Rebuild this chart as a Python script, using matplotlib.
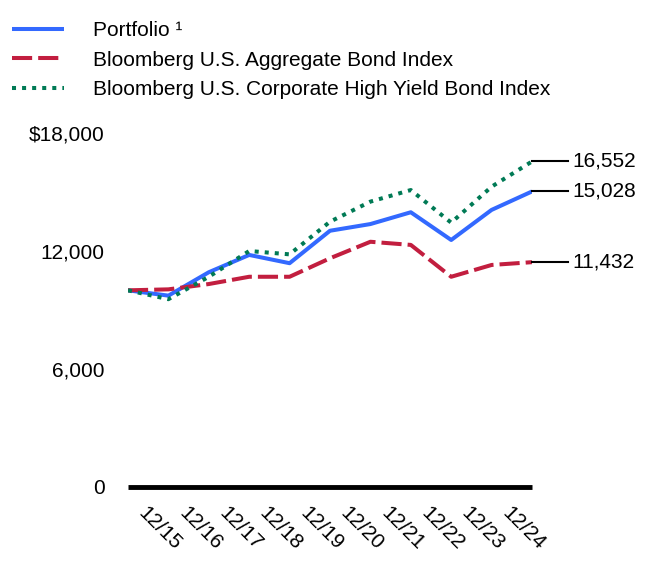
import matplotlib
matplotlib.use("Agg")
import matplotlib.pyplot as plt

plt.rcParams['font.family'] = ['Liberation Sans', 'DejaVu Sans']

tick_labels = ["12/15", "12/16", "12/17", "12/18", "12/19", "12/20", "12/21", "12/22", "12/23", "12/24"]
points_x = list(range(11))
portfolio = [10000, 9730, 10920, 11800, 11380, 13030, 13370, 13970, 12560, 14090, 15028]
aggregate = [10000, 10050, 10320, 10690, 10690, 11630, 12470, 12310, 10690, 11290, 11432]
high_yield = [10000, 9550, 10690, 12000, 11830, 13490, 14510, 15100, 13440, 15270, 16552]
series_names = ["Portfolio \u00b9", "Bloomberg U.S. Aggregate Bond Index",
                "Bloomberg U.S. Corporate High Yield Bond Index"]
end_labels = ["15,028", "11,432", "16,552"]
yticks = [0, 6000, 12000, 18000]
ytick_labels = ["0", "6,000", "12,000", "$18,000"]

blue = "#3369FF"
red = "#C21E3F"
green = "#007A55"
FS = 15

fig = plt.figure(figsize=(6.6, 5.88), dpi=100)
ax = fig.add_axes([128/660, 1 - 487/588, (532-128)/660, (487-133)/588])

lw = 2.9
l1, = ax.plot(points_x, portfolio, color=blue, lw=lw, solid_capstyle='butt')
l2, = ax.plot(points_x, aggregate, color=red, lw=lw, dashes=(5.0, 1.5), dash_capstyle='butt')
l3, = ax.plot(points_x, high_yield, color=green, lw=lw, linestyle=(0, (1.0, 1.5)), dash_capstyle='butt')

ax.set_xlim(0, 10)
ax.set_ylim(0, 18000)
ax.set_yticks(yticks)
ax.set_yticklabels(ytick_labels, fontsize=FS)
xt = [i + 0.5 for i in range(len(tick_labels))]
ax.set_xticks(xt)
ax.set_xticklabels(tick_labels, fontsize=FS, rotation=-45, ha='left', va='top',
                   rotation_mode='anchor')
ax.tick_params(axis='both', length=0)
ax.tick_params(axis='y', pad=17)
ax.tick_params(axis='x', pad=12)
for s in ['top', 'right', 'left']:
    ax.spines[s].set_visible(False)
ax.spines['bottom'].set_linewidth(3.5)
ax.spines['bottom'].set_color('black')
ax.spines['bottom'].set_capstyle('butt')

for vals, lab in zip([portfolio, aggregate, high_yield], end_labels):
    v = vals[-1]
    ax.plot([10, 10.89], [v, v], color='black', lw=1.5, clip_on=False)
    ax.text(11.0, v, lab, fontsize=FS, va='center', ha='left', clip_on=False)

fig.legend([l1, l2, l3], series_names, loc='upper left', bbox_to_anchor=(0.006, 0.978),
           frameon=False, fontsize=FS, handlelength=2.5, handletextpad=1.35,
           labelspacing=0.5, borderaxespad=0)

fig.savefig("out.png", dpi=100)
